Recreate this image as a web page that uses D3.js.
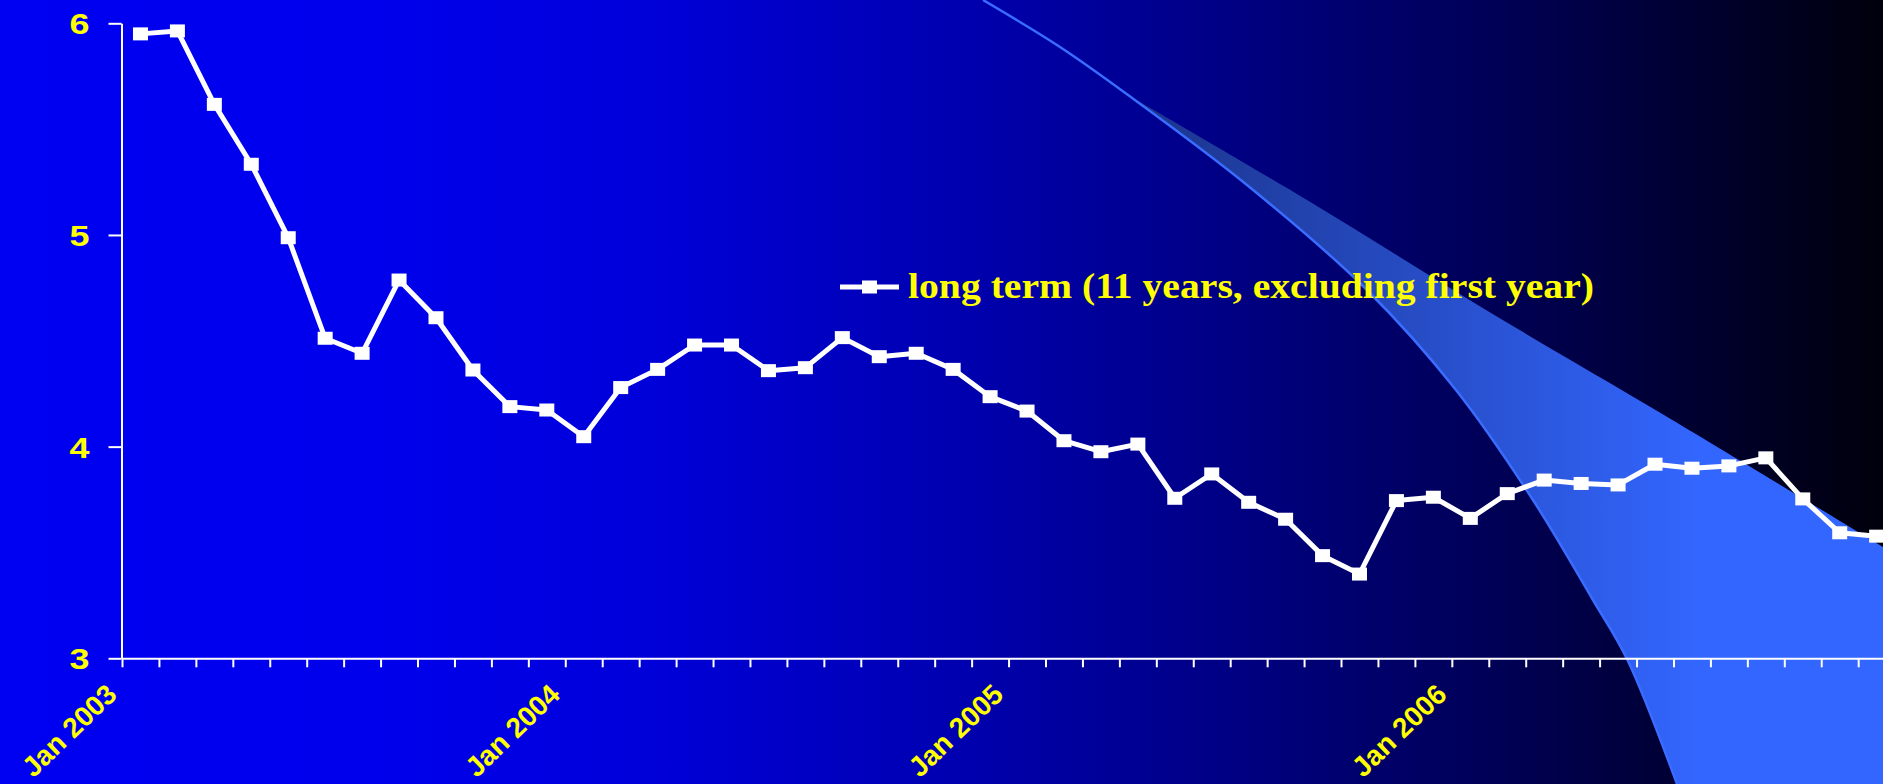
<!DOCTYPE html>
<html>
<head>
<meta charset="utf-8">
<script src="https://cdn.jsdelivr.net/npm/d3@7/dist/d3.min.js"></script>
<style>
  html, body { margin: 0; padding: 0; overflow: hidden; background: #000; }
  svg { display: block; }
</style>
</head>
<body>
<svg id="chart" width="1883" height="784"></svg>
<script>
// Monthly categories, Jan 2003 .. Dec 2006
const months = [
  "2003-01","2003-02","2003-03","2003-04","2003-05","2003-06","2003-07","2003-08","2003-09","2003-10","2003-11","2003-12",
  "2004-01","2004-02","2004-03","2004-04","2004-05","2004-06","2004-07","2004-08","2004-09","2004-10","2004-11","2004-12",
  "2005-01","2005-02","2005-03","2005-04","2005-05","2005-06","2005-07","2005-08","2005-09","2005-10","2005-11","2005-12",
  "2006-01","2006-02","2006-03","2006-04","2006-05","2006-06","2006-07","2006-08","2006-09","2006-10","2006-11","2006-12"
];

// Long term rate (11 years, excluding first year), %
const longTerm = [
  5.950, 5.964, 5.617, 5.334, 4.987, 4.512, 4.441, 4.787, 4.609, 4.362, 4.189, 4.173,
  4.047, 4.279, 4.365, 4.480, 4.480, 4.359, 4.373, 4.515, 4.425, 4.441, 4.365, 4.236,
  4.168, 4.028, 3.976, 4.012, 3.756, 3.871, 3.737, 3.657, 3.485, 3.398, 3.745, 3.761,
  3.661, 3.778, 3.842, 3.826, 3.819, 3.917, 3.898, 3.909, 3.947, 3.753, 3.593, 3.577
];

const seriesName = "long term (11 years, excluding first year)";
const yTickValues = [3, 4, 5, 6];
const xTickLabels = { "2003-01": "Jan 2003", "2004-01": "Jan 2004", "2005-01": "Jan 2005", "2006-01": "Jan 2006" };

const W = 1883, H = 784;
const svg = d3.select("#chart");
const defs = svg.append("defs");

// ---- background: bright blue fading to black on the right ----
const bg = defs.append("linearGradient").attr("id", "bgGrad")
  .attr("x1", "0%").attr("x2", "100%").attr("y1", "0%").attr("y2", "0%");
[[0, "rgb(0,0,242)"], [0.2, "rgb(0,0,236)"], [0.34, "rgb(0,0,218)"], [0.5, "rgb(0,0,178)"],
 [0.6, "rgb(0,0,148)"], [0.8, "rgb(0,0,84)"], [1, "rgb(0,0,12)"]]
  .forEach(([o, c]) => bg.append("stop").attr("offset", o).attr("stop-color", c));
svg.append("rect").attr("width", W).attr("height", H).attr("fill", "url(#bgGrad)");

// ---- decorative swoosh of the slide template ----
const swGrad = defs.append("linearGradient").attr("id", "swGrad")
  .attr("gradientUnits", "userSpaceOnUse")
  .attr("x1", 1120).attr("x2", 1700).attr("y1", 0).attr("y2", 0);
swGrad.append("stop").attr("offset", 0).attr("stop-color", "#1a3288");
swGrad.append("stop").attr("offset", 1).attr("stop-color", "#3366ff");

const swooshInner = [[983,0],[1060,47],[1128,95],[1247,185],[1367,290],[1456,390],[1533,500],[1593,600],[1627,659],[1677,784]];
const swooshOuter = [[1883,547],[1664,415],[1486,310],[1307,200],[1128,95]];

const curve = d3.line().curve(d3.curveCatmullRom.alpha(0.5));
const innerFromMerge = swooshInner.slice(2);
const bandPath = curve(innerFromMerge) + "L1883,784" + curve(swooshOuter).replace(/^M/, "L") + "Z";
svg.append("path").attr("d", bandPath).attr("fill", "url(#swGrad)");
svg.append("path").attr("d", curve(swooshInner))
  .attr("fill", "none").attr("stroke", "#3a6cff").attr("stroke-width", 2.5);

// ---- scales ----
const step = 36.94, x0 = 122;
const xIdx = d3.scaleLinear().domain([0, months.length]).range([x0, x0 + months.length * step]);
const x = d3.scaleBand().domain(months).range(xIdx.range());
const y = d3.scaleLinear().domain([3, 6]).range([658.3, 23.3]);

const yellow = "#ffff00";
const sans = "'Liberation Sans', Arial, Helvetica, sans-serif";

// ---- y axis ----
const yAxis = svg.append("g").attr("transform", `translate(${x0 - 0.5},0)`)
  .call(d3.axisLeft(y).tickValues(yTickValues).tickFormat(d3.format("d"))
    .tickSize(13).tickSizeOuter(0).tickPadding(19));
yAxis.selectAll("path, line").attr("stroke", "#ffffff").attr("stroke-width", 2);
yAxis.selectAll("text").attr("fill", yellow).attr("font-family", sans)
  .attr("font-weight", "bold").attr("font-size", 29).attr("dy", "0.36em")
  .attr("textLength", 20).attr("lengthAdjust", "spacingAndGlyphs");

// ---- x axis: month ticks at category boundaries ----
const xAxis = svg.append("g").attr("transform", `translate(0,${y(3)})`)
  .call(d3.axisBottom(xIdx).tickValues(d3.range(months.length))
    .tickSize(9).tickSizeOuter(0).tickFormat(i => xTickLabels[months[i]] || ""));
xAxis.select(".domain").attr("stroke", "#ffffff").attr("stroke-width", 2);
xAxis.selectAll("line").attr("stroke", "#ffffff").attr("stroke-width", 2);
xAxis.selectAll("text")
  .attr("fill", yellow).attr("font-family", sans).attr("font-weight", "bold").attr("font-size", 28)
  .attr("text-anchor", "end").attr("dy", null).attr("y", null)
  .attr("transform", "translate(-4,38) rotate(-44)");

// ---- data line and square markers ----
const cx = (m) => x(m) + x.bandwidth() / 2;
const pts = months.map((m, i) => ({ m, v: longTerm[i] }));
svg.append("path").datum(pts)
  .attr("d", d3.line().x(d => cx(d.m)).y(d => y(d.v)))
  .attr("fill", "none").attr("stroke", "#ffffff").attr("stroke-width", 5)
  .attr("stroke-linejoin", "round");
const mw = 15, mh = 13;
svg.append("g").selectAll("rect").data(pts).join("rect")
  .attr("x", d => cx(d.m) - mw / 2).attr("y", d => y(d.v) - mh / 2)
  .attr("width", mw).attr("height", mh).attr("fill", "#ffffff");

// ---- legend ----
const lg = svg.append("g").attr("transform", "translate(840,287)");
lg.append("line").attr("x1", 0).attr("x2", 59).attr("y1", 0).attr("y2", 0)
  .attr("stroke", "#ffffff").attr("stroke-width", 5);
lg.append("rect").attr("x", 29.5 - mw / 2).attr("y", -mh / 2).attr("width", mw).attr("height", mh).attr("fill", "#ffffff");
lg.append("text").attr("x", 68).attr("y", 11)
  .attr("fill", yellow).attr("font-family", "'Liberation Serif', 'Times New Roman', serif")
  .attr("font-weight", "bold").attr("font-size", 35)
  .attr("textLength", 686).attr("lengthAdjust", "spacingAndGlyphs")
  .text(seriesName);
</script>
</body>
</html>
